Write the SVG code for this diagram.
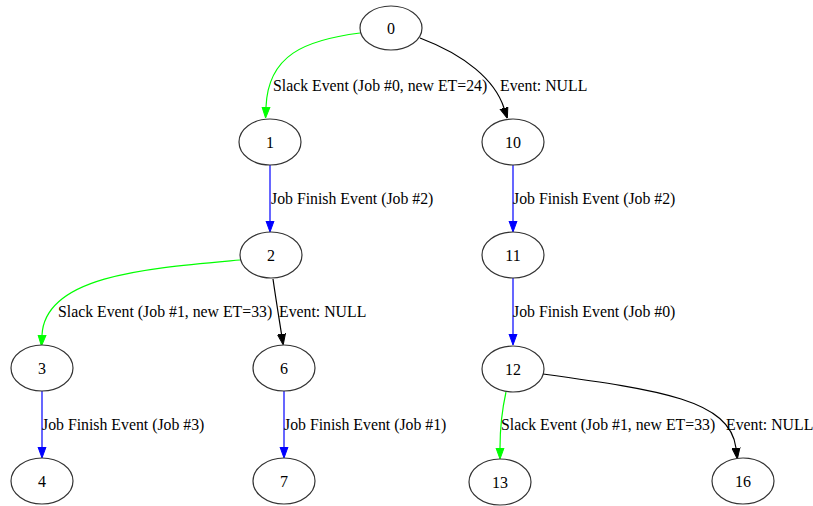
<svg xmlns="http://www.w3.org/2000/svg" width="813" height="506" viewBox="0 0 813 506">
<defs>
<style>
.node ellipse{fill:#fff;stroke:#333;stroke-width:1.2}
.node text{font-family:"Liberation Serif","Times New Roman",serif;font-size:16px;text-anchor:middle;fill:#000}
.edges path{fill:none;stroke-width:1.2}
.edges text{font-family:"Liberation Serif","Times New Roman",serif;font-size:15.8px;fill:#000}
.g{stroke:#00ff00}
.b{stroke:#0000ff}
.k{stroke:#000}
</style>
<marker id="ag" viewBox="0 -5 11 10" refX="0" refY="0" markerWidth="11" markerHeight="10" markerUnits="userSpaceOnUse" orient="auto"><path d="M0,-4L11,0L0,4z" fill="#00ff00" stroke="#00ff00"/></marker>
<marker id="ab" viewBox="0 -5 11 10" refX="0" refY="0" markerWidth="11" markerHeight="10" markerUnits="userSpaceOnUse" orient="auto"><path d="M0,-4L11,0L0,4z" fill="#0000ff" stroke="#0000ff"/></marker>
<marker id="ak" viewBox="0 -5 11 10" refX="0" refY="0" markerWidth="11" markerHeight="10" markerUnits="userSpaceOnUse" orient="auto"><path d="M0,-4L11,0L0,4z" fill="#000" stroke="#000"/></marker>
</defs>
<rect width="813" height="506" fill="#fff"/>
<g id="edges" class="edges">
<path class="g" d="M360,33 C305,40 268,55 266,107" marker-end="url(#ag)"/>
<text x="273" y="91">Slack Event (Job #0, new ET=24)</text>
<path class="k" d="M420,38 C465,55 495,80 504,108" marker-end="url(#ak)"/>
<text x="500" y="91">Event: NULL</text>
<path class="b" d="M270,165 L270,221" marker-end="url(#ab)"/>
<text x="271" y="204">Job Finish Event (Job #2)</text>
<path class="b" d="M513,165 L513,221" marker-end="url(#ab)"/>
<text x="513" y="204">Job Finish Event (Job #2)</text>
<path class="g" d="M240,260 C150,268 45,275 42,335" marker-end="url(#ag)"/>
<text x="58" y="317">Slack Event (Job #1, new ET=33)</text>
<path class="k" d="M273,279 C276,300 279,318 281.5,334" marker-end="url(#ak)"/>
<text x="279" y="317">Event: NULL</text>
<path class="b" d="M42,391 L42,447" marker-end="url(#ab)"/>
<text x="42" y="430">Job Finish Event (Job #3)</text>
<path class="b" d="M284,391 L284,447" marker-end="url(#ab)"/>
<text x="284" y="430">Job Finish Event (Job #1)</text>
<path class="b" d="M513,278 L513,334" marker-end="url(#ab)"/>
<text x="513" y="317">Job Finish Event (Job #0)</text>
<path class="g" d="M506,392 C502,410 500,430 500,448" marker-end="url(#ag)"/>
<text x="501" y="430">Slack Event (Job #1, new ET=33)</text>
<path class="k" d="M543,374 C660,390 730,400 736,448" marker-end="url(#ak)"/>
<text x="726" y="430">Event: NULL</text>
</g>
<g id="n0" class="node"><ellipse cx="391" cy="28" rx="31" ry="22"/><text x="391" y="33.5">0</text></g>
<g id="n1" class="node"><ellipse cx="270" cy="142" rx="31" ry="23"/><text x="270" y="147.5">1</text></g>
<g id="n10" class="node"><ellipse cx="513" cy="142" rx="31" ry="23"/><text x="513" y="147.5">10</text></g>
<g id="n2" class="node"><ellipse cx="271" cy="255" rx="31" ry="23"/><text x="271" y="260.5">2</text></g>
<g id="n11" class="node"><ellipse cx="513" cy="255" rx="31" ry="23"/><text x="513" y="260.5">11</text></g>
<g id="n3" class="node"><ellipse cx="42" cy="368" rx="31" ry="23"/><text x="42" y="373.5">3</text></g>
<g id="n6" class="node"><ellipse cx="284" cy="368" rx="31" ry="23"/><text x="284" y="373.5">6</text></g>
<g id="n12" class="node"><ellipse cx="513" cy="369" rx="31" ry="23"/><text x="513" y="374.5">12</text></g>
<g id="n4" class="node"><ellipse cx="42" cy="481" rx="31" ry="23"/><text x="42" y="486.5">4</text></g>
<g id="n7" class="node"><ellipse cx="284" cy="481" rx="31" ry="23"/><text x="284" y="486.5">7</text></g>
<g id="n13" class="node"><ellipse cx="500" cy="482" rx="31" ry="23"/><text x="500" y="487.5">13</text></g>
<g id="n16" class="node"><ellipse cx="743" cy="481" rx="31" ry="23"/><text x="743" y="486.5">16</text></g>
</svg>
